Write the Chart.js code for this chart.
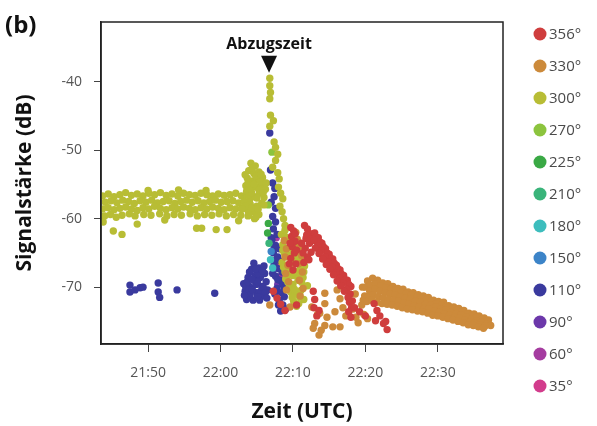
<!DOCTYPE html>
<html>
<head>
<meta charset="utf-8">
<script src="https://cdn.jsdelivr.net/npm/chart.js@4.4.1/dist/chart.umd.min.js"></script>
<style>
    html, body { margin: 0; background: #fff; }
    #wrap { width: 597px; height: 426px; }
</style>
</head>
<body>
<div id="wrap"><canvas id="chart" width="597" height="426"></canvas></div>
<script>
// Legende (Antennenrichtung)
const angleLabels = ['356°', '330°', '300°', '270°', '225°', '210°', '180°', '150°', '110°', '90°', '60°', '35°'];
const angleColors = ['#cf3d3d', '#cc8a3b', '#b8bd35', '#8cc43e', '#3aa945', '#3ab47a', '#3dbdbd', '#3c84c8', '#3a3a9e', '#6c38aa', '#a53ca0', '#d23c8c'];

// x = Minuten nach 21:00 UTC
const xTickMinutes = [50, 60, 70, 80, 90];
const xTickLabels = ['21:50', '22:00', '22:10', '22:20', '22:30'];
const yTickValues = [-70, -60, -50, -40];

// Abzugszeit
const releaseMinute = 66.7;
const releaseDb = -38.7;

// [Minute, dB]
const pts356 = [
    [69.7, -61.3], [70.1, -61.8], [69.8, -62.6], [70.3, -63.3], [69.9, -64.1], [70.2, -65.0], [69.7, -65.8], [70.4, -66.6], [70.0, -67.5],
    [70.3, -62.2], [69.6, -63.6], [70.5, -64.6], [69.5, -66.6],
    [71.6, -61.0], [72.0, -61.5], [72.4, -62.2], [71.8, -62.9], [72.3, -63.6], [71.7, -64.3], [72.5, -64.9], [72.0, -65.6], [71.5, -66.4],
    [71.9, -62.4], [72.4, -63.0], [71.4, -65.0], [72.2, -66.0], [71.2, -63.6],
    [73.0, -62.1], [73.5, -62.8], [74.0, -63.6], [74.5, -64.4], [75.0, -65.2], [75.5, -65.9], [76.0, -66.8], [76.5, -67.5], [77.0, -68.3], [77.5, -69.0], [78.0, -69.9],
    [73.2, -62.7], [73.7, -63.4], [74.2, -64.1], [74.7, -65.0], [75.2, -65.8], [75.7, -66.5], [76.2, -67.3], [76.7, -68.1], [77.2, -68.9], [77.7, -69.6],
    [72.9, -63.2], [73.4, -64.0], [73.9, -64.7], [74.4, -65.6], [74.9, -66.3], [75.4, -67.1], [75.9, -67.9], [76.4, -68.7], [76.9, -69.4], [77.4, -70.3], [77.9, -71.0],
    [73.1, -64.3], [73.6, -65.1], [74.1, -65.9], [74.6, -66.7], [75.1, -67.4], [75.6, -68.2], [76.1, -69.1], [76.6, -69.8], [77.1, -70.6], [77.6, -71.5],
    [77.8, -72.2], [78.1, -73.0], [77.7, -73.6], [78.0, -74.4],
    [72.8, -70.6], [73.0, -71.8], [72.9, -73.0], [73.3, -74.2], [73.6, -73.4],
    [78.2, -72.0], [78.5, -73.0], [79.2, -73.6], [80.0, -74.2],
    [81.2, -72.4], [81.6, -73.4], [82.0, -74.2], [81.4, -74.9], [82.5, -75.3], [83.0, -76.2], [82.8, -75.0],
    [67.3, -70.6], [67.8, -71.6], [68.3, -72.5], [70.5, -72.6], [68.9, -73.4]
];
const pts330 = [
    [68.8, -63.2], [69.1, -64.4], [68.9, -65.6], [69.3, -66.8], [69.0, -68.0], [69.4, -69.2], [69.1, -70.4],
    [70.6, -63.0], [70.9, -64.2], [71.2, -65.4], [70.8, -66.6], [71.3, -67.8], [70.9, -69.0], [71.4, -70.2], [71.0, -71.3], [70.4, -62.0],
    [72.6, -72.9], [73.0, -75.3], [73.4, -74.0], [73.9, -76.3], [74.4, -75.6], [74.7, -74.4], [73.7, -73.8], [72.8, -76.0], [73.6, -77.0],
    [74.4, -70.9], [74.4, -72.4], [76.1, -70.4], [76.5, -71.7], [76.9, -73.0], [76.5, -75.8], [75.5, -75.8], [77.3, -74.2], [66.8, -72.6], [69.6, -72.9], [75.8, -73.6],
    [78.0, -72.0], [78.3, -73.2], [78.7, -74.4], [79.0, -75.2], [78.6, -71.0], [79.8, -74.0], [80.3, -74.6],
    // Band 22:19 - 22:37
    [79.6, -70.0], [80.3, -69.1], [81.0, -68.7], [81.7, -69.0], [82.4, -69.4], [83.1, -69.5], [83.8, -69.9], [84.5, -70.2], [85.2, -70.3], [85.9, -70.7],
    [86.6, -70.8], [87.3, -71.1], [88.0, -71.3], [88.7, -71.5], [89.4, -71.9], [90.1, -72.1], [90.8, -72.2], [91.5, -72.7], [92.2, -72.9], [92.9, -73.1],
    [93.6, -73.4], [94.3, -73.8], [95.0, -73.9], [95.7, -74.2], [96.4, -74.5], [97.0, -74.8],
    [80.0, -70.0], [80.7, -69.7], [81.4, -69.5], [82.1, -69.8], [82.8, -70.1], [83.5, -70.3], [84.2, -70.5], [84.9, -70.8], [85.6, -71.0], [86.3, -71.2],
    [87.0, -71.5], [87.7, -71.7], [88.4, -71.9], [89.1, -72.1], [89.8, -72.4], [90.5, -72.6], [91.2, -72.8], [91.9, -73.2], [92.6, -73.4], [93.3, -73.6],
    [94.0, -73.9], [94.7, -74.2], [95.4, -74.4], [96.1, -74.7], [96.8, -74.9],
    [79.9, -71.3], [80.6, -70.6], [81.3, -70.3], [82.0, -70.6], [82.7, -70.8], [83.4, -71.0], [84.1, -71.1], [84.8, -71.4], [85.5, -71.6], [86.2, -71.8],
    [86.9, -72.1], [87.6, -72.2], [88.3, -72.5], [89.0, -72.6], [89.7, -72.9], [90.4, -73.2], [91.1, -73.3], [91.8, -73.7], [92.5, -73.9], [93.2, -74.1],
    [93.9, -74.4], [94.6, -74.7], [95.3, -74.9], [96.0, -75.1], [96.7, -75.4], [97.3, -75.6],
    [79.7, -71.9], [80.4, -71.4], [81.1, -71.1], [81.8, -71.4], [82.5, -71.6], [83.2, -71.8], [83.9, -71.9], [84.6, -72.1], [85.3, -72.3], [86.0, -72.5],
    [86.7, -72.7], [87.4, -72.9], [88.1, -73.1], [88.8, -73.2], [89.5, -73.5], [90.2, -73.7], [90.9, -73.9], [91.6, -74.1], [92.3, -74.4], [93.0, -74.5],
    [93.7, -74.8], [94.4, -75.1], [95.1, -75.3], [95.8, -75.5], [96.5, -75.7],
    [79.5, -72.6], [80.2, -72.1], [80.9, -71.9], [81.6, -72.2], [82.3, -72.4], [83.0, -72.5], [83.7, -72.6], [84.4, -72.8], [85.1, -73.0], [85.8, -73.2],
    [86.5, -73.3], [87.2, -73.5], [87.9, -73.6], [88.6, -73.8], [89.3, -74.1], [90.0, -74.2], [90.7, -74.4], [91.4, -74.6], [92.1, -74.8], [92.8, -75.0],
    [93.5, -75.2], [94.2, -75.5], [94.9, -75.6], [95.6, -75.8], [96.3, -76.0]
];
const pts300 = [
    // Band 21:44 - 22:04
    [43.7, -56.7], [44.5, -56.4], [45.3, -56.8], [46.1, -56.5], [46.9, -56.2], [47.7, -56.6], [48.5, -56.4], [49.3, -56.7], [50.1, -56.3], [50.9, -56.5],
    [51.7, -56.2], [52.5, -56.6], [53.3, -56.4], [54.1, -56.7], [54.9, -56.3], [55.7, -56.5], [56.5, -56.6], [57.3, -56.3], [58.1, -56.5], [58.9, -56.7],
    [59.7, -56.4], [60.5, -56.6], [61.3, -56.5], [62.1, -56.3], [62.9, -56.7], [63.6, -56.5],
    [44.1, -57.6], [44.9, -57.4], [45.7, -57.7], [46.5, -57.3], [47.3, -57.5], [48.1, -57.8], [48.9, -57.4], [49.7, -57.6], [50.5, -57.3], [51.3, -57.7],
    [52.1, -57.5], [52.9, -57.4], [53.7, -57.8], [54.5, -57.5], [55.3, -57.3], [56.1, -57.6], [56.9, -57.4], [57.7, -57.7], [58.5, -57.5], [59.3, -57.3],
    [60.1, -57.6], [60.9, -57.5], [61.7, -57.4], [62.5, -57.7], [63.3, -57.5], [64.0, -57.3],
    [43.7, -58.6], [44.5, -58.4], [45.3, -58.7], [46.1, -58.5], [46.9, -58.3], [47.7, -58.6], [48.5, -58.8], [49.3, -58.4], [50.1, -58.6], [50.9, -58.2],
    [51.7, -58.5], [52.5, -58.7], [53.3, -58.4], [54.1, -58.6], [54.9, -58.3], [55.7, -58.5], [56.5, -58.7], [57.3, -58.4], [58.1, -58.6], [58.9, -58.3],
    [59.7, -58.5], [60.5, -58.7], [61.3, -58.4], [62.1, -58.6], [62.9, -58.5], [63.6, -58.3],
    [44.0, -59.6], [44.8, -59.4], [45.6, -59.8], [46.4, -59.5], [47.4, -59.3], [48.2, -59.6], [49.4, -59.4], [50.4, -59.5], [51.6, -59.3], [52.6, -59.6],
    [53.6, -59.4], [54.6, -59.5], [55.8, -59.3], [56.8, -59.6], [57.8, -59.4], [58.8, -59.5], [59.8, -59.3], [60.8, -59.6], [61.8, -59.4], [62.8, -59.5], [63.8, -59.6],
    [43.8, -60.5], [45.2, -61.8], [46.4, -62.3], [48.5, -60.8], [52.3, -60.2], [56.7, -61.4], [57.4, -61.4], [59.4, -61.6], [60.9, -61.6], [62.5, -60.3],
    [64.7, -60.0], [50.0, -55.9], [54.2, -55.8], [58.0, -55.9],
    // Wolke vor dem Abzug
    [64.2, -51.9], [64.8, -52.3], [63.9, -53.0], [64.6, -53.4], [65.3, -53.2], [63.7, -54.1], [64.4, -54.5], [65.1, -54.3], [65.8, -54.0], [63.5, -55.2],
    [64.2, -55.6], [64.9, -55.4], [65.6, -55.1], [66.2, -55.7], [63.9, -56.5], [64.7, -56.8], [65.4, -56.3], [66.0, -56.9], [63.3, -57.6], [64.1, -57.9],
    [65.0, -58.2], [65.7, -57.7], [64.5, -59.0], [65.3, -59.4], [63.8, -58.8],
    [63.4, -53.6], [64.9, -53.8], [65.5, -54.6], [63.8, -54.8], [64.6, -55.0], [65.3, -55.8], [63.6, -56.0], [64.3, -56.2], [65.0, -57.0], [65.9, -56.2],
    [63.5, -58.2], [64.3, -58.5], [65.2, -58.6], [66.0, -58.0], [63.0, -58.6], [63.9, -59.4], [64.9, -59.8], [66.3, -54.8], [64.4, -52.6], [65.6, -53.5],
    // Saeule unter dem Pfeil
    [66.8, -39.5], [66.8, -40.6], [66.9, -41.6], [66.8, -42.5], [66.9, -44.9], [67.3, -45.7], [66.8, -46.5], [67.4, -48.8], [67.6, -49.6], [67.9, -50.6],
    [67.6, -51.5], [67.2, -52.5], [67.9, -53.3], [68.1, -54.2], [68.0, -55.4], [68.3, -56.3], [68.6, -57.1], [68.2, -58.2], [68.5, -59.0], [68.7, -60.0], [68.9, -61.0],
    // nach dem Abzug
    [68.4, -62.3], [68.9, -61.7], [69.2, -63.0], [68.6, -63.8], [69.5, -64.2], [70.0, -63.5], [68.8, -65.0], [69.4, -65.6], [70.1, -65.1], [70.7, -64.6],
    [68.5, -66.4], [69.1, -66.9], [69.8, -66.5], [70.5, -66.2], [71.2, -65.8], [68.9, -67.8], [69.6, -68.2], [70.3, -67.7], [71.0, -67.4], [71.6, -66.9],
    [69.3, -69.3], [70.0, -69.6], [70.7, -69.0], [71.4, -68.6], [69.7, -70.7], [70.4, -71.0], [71.1, -70.5], [70.1, -72.1], [70.8, -72.4], [71.5, -71.8], [72.0, -69.8],
    [68.6, -64.6], [69.2, -65.2], [69.9, -64.4], [70.4, -65.6], [68.7, -67.1], [69.4, -67.6], [70.0, -68.3], [70.7, -68.0], [69.5, -70.0], [70.2, -70.3],
    [70.9, -71.4], [70.5, -72.8], [71.2, -69.3], [69.0, -68.8], [69.9, -71.5], [70.6, -63.9], [71.5, -67.8], [68.9, -62.6]
];
const pts270 = [[66.6, -58.0], [67.1, -50.3]];
const pts225 = [[66.6, -60.7], [66.5, -62.1]];
const pts210 = [[66.7, -63.6]];
const pts180 = [[67.2, -67.2], [66.9, -66.0]];
const pts150 = [[67.0, -64.8]];
const pts110 = [
    [47.5, -69.7], [47.5, -70.7], [48.2, -70.4], [48.9, -70.1], [49.3, -70.0], [51.4, -69.4], [51.4, -70.7], [51.6, -71.5], [54.0, -70.4], [59.2, -70.9],
    [63.2, -69.5], [63.4, -70.6], [63.8, -68.6], [64.0, -69.9], [64.1, -71.1], [64.3, -67.4], [64.6, -66.5], [64.8, -68.3], [64.9, -69.6], [65.0, -70.8],
    [65.3, -67.2], [65.5, -68.6], [65.7, -69.9], [65.8, -71.3], [66.1, -68.0], [66.3, -69.2], [66.5, -70.4], [64.5, -71.9], [65.4, -71.9], [66.0, -66.9],
    [63.6, -71.8], [64.0, -67.8],
    [63.5, -70.0], [63.9, -70.4], [64.4, -70.4], [64.6, -69.0], [65.1, -69.2], [65.2, -68.0], [65.6, -70.6], [65.9, -70.0], [66.2, -70.8], [64.9, -67.4],
    [63.7, -69.2], [64.3, -68.8], [65.1, -71.4], [66.4, -71.6], [63.3, -71.2], [65.8, -67.6],
    [66.8, -47.5], [66.9, -52.9], [67.2, -54.8], [67.5, -55.6], [67.4, -56.8], [67.0, -57.6], [67.6, -58.5], [67.2, -59.7], [67.6, -60.5], [67.3, -61.5],
    [67.8, -62.3], [67.1, -63.1], [67.6, -63.9], [68.1, -64.4], [67.3, -65.0], [67.9, -65.6], [68.3, -66.2], [67.4, -66.7], [68.0, -67.3], [68.5, -67.8],
    [67.6, -68.4], [68.2, -69.0], [68.6, -69.6], [67.8, -70.2], [68.4, -70.8], [68.8, -71.4], [68.1, -71.9], [68.6, -72.6], [69.0, -73.2], [68.3, -73.5],
    [67.0, -62.8], [67.4, -64.3], [67.7, -66.0], [67.2, -68.0], [67.9, -68.9], [68.0, -72.6], [67.5, -71.0], [68.8, -70.2]
];
const pts90 = [[67.9, -69.6]];
const pts60 = [[68.4, -68.3], [67.7, -62.8]];
const pts35 = [[68.1, -66.5]];

const seriesData = [pts356, pts330, pts300, pts270, pts225, pts210, pts180, pts150, pts110, pts90, pts60, pts35];

const FONT = '"Open Sans", "DejaVu Sans", sans-serif';

// Rahmen, Pfeil, "(b)" und Legende
const extrasPlugin = {
    id: 'extras',
    afterDatasetsDraw(chart) {
        const { ctx, chartArea: a, scales } = chart;
        ctx.save();
        ctx.strokeStyle = '#222';
        ctx.lineWidth = 1.5;
        ctx.strokeRect(a.left, a.top, a.right - a.left, a.bottom - a.top);

        const px = scales.x.getPixelForValue(releaseMinute);
        const py = scales.y.getPixelForValue(releaseDb);
        ctx.fillStyle = '#111';
        ctx.beginPath();
        ctx.moveTo(px - 8, py - 17);
        ctx.lineTo(px + 8, py - 17);
        ctx.lineTo(px, py);
        ctx.closePath();
        ctx.fill();
        ctx.font = 'bold 16px ' + FONT;
        ctx.textAlign = 'center';
        ctx.textBaseline = 'middle';
        ctx.fillText('Abzugszeit', px, py - 28);
        ctx.restore();
    },
    afterDraw(chart) {
        const { ctx } = chart;
        ctx.save();
        ctx.fillStyle = '#111';
        ctx.font = 'bold 24px ' + FONT;
        ctx.textAlign = 'left';
        ctx.textBaseline = 'middle';
        ctx.fillText('(b)', 5, 26);

        ctx.font = '15px ' + FONT;
        chart.data.datasets.forEach((ds, i) => {
            const y = 34 + i * 32;
            ctx.fillStyle = ds.backgroundColor;
            ctx.beginPath();
            ctx.arc(540, y, 6.5, 0, Math.PI * 2);
            ctx.fill();
            ctx.fillStyle = '#4a4a4a';
            ctx.fillText(ds.label, 549, y + 1);
        });
        ctx.restore();
    }
};

new Chart(document.getElementById('chart'), {
    type: 'scatter',
    data: {
        datasets: seriesData.map((pts, i) => ({
            label: angleLabels[i],
            data: pts,
            backgroundColor: angleColors[i],
            borderColor: angleColors[i],
            borderWidth: 0,
            pointRadius: 3.7
        }))
    },
    options: {
        responsive: false,
        animation: false,
        devicePixelRatio: 1,
        layout: { padding: { left: 0, right: 94, top: 22, bottom: 0 } },
        plugins: {
            legend: { display: false },
            tooltip: { enabled: false }
        },
        scales: {
            x: {
                type: 'linear',
                min: 43.5,
                max: 99,
                afterBuildTicks: s => { s.ticks = xTickMinutes.map(v => ({ value: v })); },
                afterFit: s => { s.height = 82; },
                ticks: {
                    callback: (v, i) => xTickLabels[i],
                    autoSkip: false,
                    maxRotation: 0,
                    padding: 13,
                    color: '#555',
                    font: { family: FONT, size: 14 }
                },
                grid: { drawOnChartArea: false, tickLength: 8, color: '#444' },
                border: { color: '#222', width: 1.5 },
                title: {
                    display: true,
                    text: 'Zeit (UTC)',
                    color: '#111',
                    font: { family: FONT, size: 21, weight: 'bold' },
                    padding: { top: 0, bottom: 1 }
                }
            },
            y: {
                min: -78.3,
                max: -31.3,
                afterBuildTicks: s => { s.ticks = yTickValues.map(v => ({ value: v })); },
                afterFit: s => { s.width = 101; },
                ticks: {
                    padding: 12,
                    color: '#555',
                    font: { family: FONT, size: 14 }
                },
                grid: { drawOnChartArea: false, tickLength: 7, color: '#444' },
                border: { color: '#222', width: 1.5 },
                title: {
                    display: true,
                    text: 'Signalstärke (dB)',
                    color: '#111',
                    font: { family: FONT, size: 21, weight: 'bold' },
                    padding: { top: 12, bottom: 0 }
                }
            }
        }
    },
    plugins: [extrasPlugin]
});
</script>
</body>
</html>
